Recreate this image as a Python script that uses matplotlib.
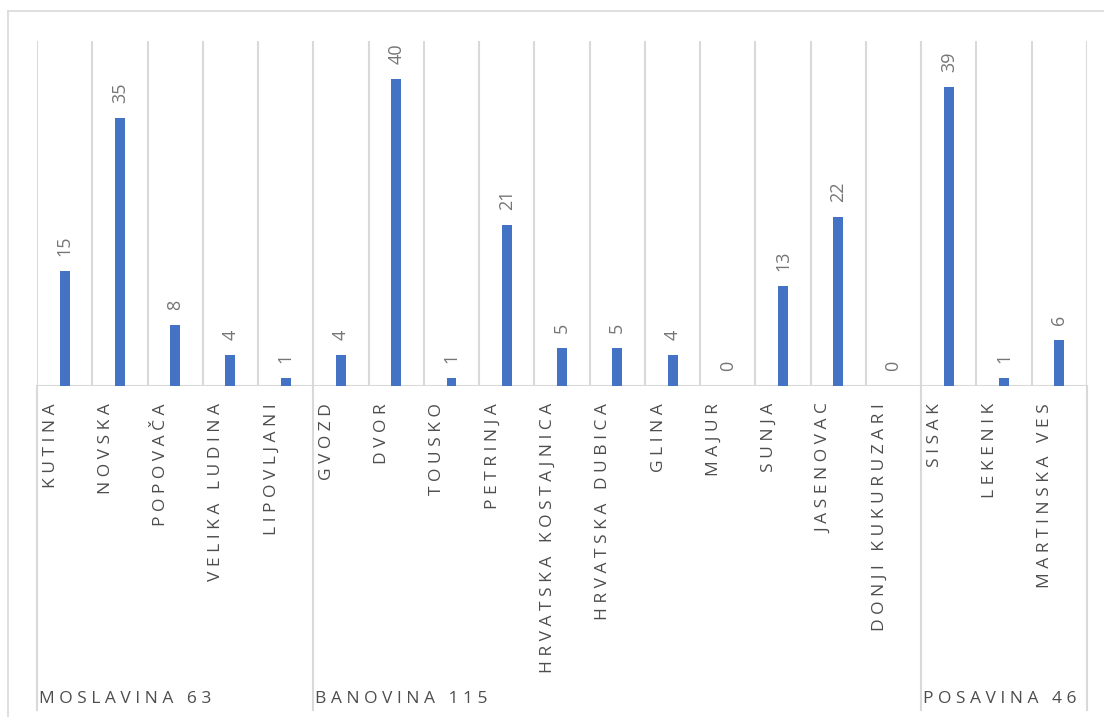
import matplotlib.pyplot as plt
import matplotlib.transforms as mtransforms
from matplotlib.lines import Line2D

# Towns, their counts and the region each belongs to
towns = ['KUTINA', 'NOVSKA', 'POPOVAČA', 'VELIKA LUDINA', 'LIPOVLJANI',
         'GVOZD', 'DVOR', 'TOUSKO', 'PETRINJA', 'HRVATSKA KOSTAJNICA',
         'HRVATSKA DUBICA', 'GLINA', 'MAJUR', 'SUNJA', 'JASENOVAC',
         'DONJI KUKURUZARI', 'SISAK', 'LEKENIK', 'MARTINSKA VES']
values = [15, 35, 8, 4, 1,
          4, 40, 1, 21, 5, 5, 4, 0, 13, 22, 0,
          39, 1, 6]
region_labels = ['MOSLAVINA 63', 'BANOVINA 115', 'POSAVINA 46']
region_sizes = [5, 11, 3]

W, H = 1104, 717
bar_color = '#4472C4'
grid_color = '#d9d9d9'
label_color = '#4d4d4d'
value_color = '#757575'
fs = 12.5

plt.rcParams['font.family'] = ['Open Sans', 'DejaVu Sans']


def spaced(s):
    # imitate Excel's expanded character spacing
    return '   '.join(' '.join(w) for w in s.split())


fig = plt.figure(figsize=(W / 100, H / 100), dpi=100)
ax = fig.add_axes([37 / W, 1 - 386 / H, (1087 - 37) / W, (386 - 41) / H])

n = len(towns)
x = list(range(n))
ax.bar(x, values, width=0.18, color=bar_color, zorder=3)
ax.set_xlim(-0.5, n - 0.5)
ax.set_ylim(0, 45)

# vertical gridlines between categories and the baseline
for i in range(n + 1):
    ax.axvline(i - 0.5, color=grid_color, lw=1.5, zorder=1)
ax.axhline(0, color=grid_color, lw=1.5, zorder=2)

for s in ax.spines.values():
    s.set_visible(False)
ax.set_xticks([])
ax.set_yticks([])

# value labels, rotated
for xi, v in zip(x, values):
    ax.annotate(str(v), (xi, v), xytext=(0, 15), textcoords='offset pixels',
                rotation=90, ha='center', va='bottom', fontsize=13,
                color=value_color)

trans = mtransforms.blended_transform_factory(ax.transData, fig.transFigure)
label_trans = mtransforms.offset_copy(trans, fig=fig, x=-14, y=0, units='dots')

# town labels below the axis
for xi, t in zip(x, towns):
    ax.text(xi, 1 - 403 / H, spaced(t), transform=label_trans, rotation=90,
            ha='center', va='top', fontsize=fs, color=label_color)

# region separators and labels
start = 0
bounds = [0]
for size in region_sizes:
    start += size
    bounds.append(start)
for b in bounds:
    fig.add_artist(Line2D([b - 0.5, b - 0.5], [1 - 386 / H, 1 - 710 / H],
                          transform=trans, color=grid_color, lw=1.5))
for lab, b in zip(region_labels, bounds[:-1]):
    ax.text(b - 0.5, 1 - 703 / H, spaced(lab),
            transform=mtransforms.offset_copy(trans, fig=fig, x=2, y=0, units='dots'),
            ha='left', va='baseline', fontsize=fs, color=label_color)

# chart area border (top and left visible)
fig.add_artist(Line2D([8 / W, 1.01], [1 - 11 / H, 1 - 11 / H], color=grid_color, lw=1.2))
fig.add_artist(Line2D([8 / W, 8 / W], [1 - 11 / H, -0.01], color=grid_color, lw=1.2))

plt.savefig('out.png', dpi=100, facecolor='white')
